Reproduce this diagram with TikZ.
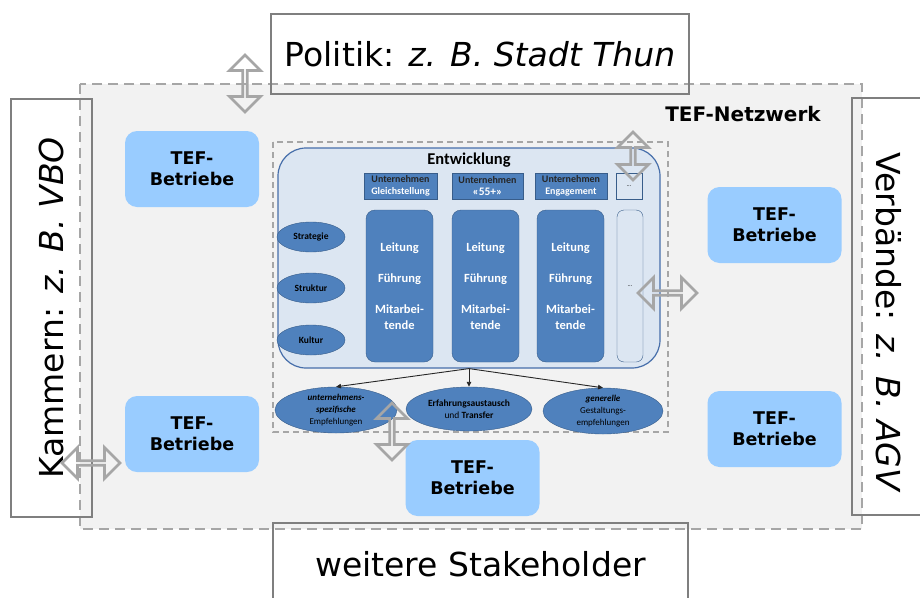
\documentclass[tikz,border=0pt]{standalone}
\usepackage{fontspec}
\setmainfont{DejaVu Sans}
\newfontfamily\calfont{Carlito}
\usepackage{tikz}
\usetikzlibrary{shapes.geometric,shapes.arrows,arrows.meta}

\definecolor{tefblau}{RGB}{153,204,255}
\definecolor{netzgrau}{RGB}{242,242,242}
\definecolor{randgrau}{RGB}{127,127,127}
\definecolor{pfeilgrau}{RGB}{166,166,166}
\definecolor{hellblau}{RGB}{220,230,242}
\definecolor{rahmenblau}{RGB}{70,110,170}
\definecolor{mittelblau}{RGB}{79,129,189}
\definecolor{dunkelblau}{RGB}{56,93,138}

\begin{document}
\begin{tikzpicture}[x=1pt,y=-1pt,
    aussen/.style={shape=rectangle, draw=randgrau, line width=2.8, inner sep=0},
    gross/.style={font=\fontsize{33}{40}\selectfont},
    betrieb/.style={shape=rectangle, rounded corners=12, fill=tefblau, minimum width=134, minimum height=76,
                    align=center, font=\fontsize{17.5}{21}\selectfont\bfseries},
    kopf/.style={shape=rectangle, fill=mittelblau, draw=dunkelblau, minimum height=26, inner sep=0,
                 align=center, text=white, font=\calfont\fontsize{10}{12.5}\selectfont\bfseries},
    spalte/.style={shape=rectangle, rounded corners=9, fill=mittelblau, draw=dunkelblau, minimum width=67,
                   minimum height=152, align=center, text=white, font=\calfont\fontsize{12.5}{16}\selectfont\bfseries},
    leer/.style={shape=rectangle, fill=hellblau, draw=dunkelblau, minimum width=26, inner sep=0,
                 font=\calfont\fontsize{6}{6}\selectfont},
    oval/.style={shape=ellipse, fill=mittelblau, draw=dunkelblau, inner sep=0, align=center},
    doppel/.style={double arrow, draw=pfeilgrau, line width=2.7, inner sep=0, minimum width=31,
                   double arrow head extend=8},
    pfeil/.style={-{Triangle[length=5,width=4.5]}, draw=black!85, line width=0.9}
  ]
  \clip (0,0) rectangle (920,597);

  % TEF-Netzwerk
  \path[fill=netzgrau, draw=pfeilgrau, line width=2.2, dash pattern=on 10 off 6] (80,84) rectangle (862,529);
  \node [font=\fontsize{20}{24}\selectfont\bfseries] (netz) at (743,114) {TEF-Netzwerk};

  % Stakeholder
  \node [aussen, gross, minimum width=418, minimum height=80] (politik) at (480,54)
        {Politik: \textit{z. B. Stadt Thun}};
  \node [aussen, minimum width=415, minimum height=82] (weiterebox) at (480.5,564) {};
  \node [gross] (weitere) at (480.5,564) {weitere Stakeholder};
  \node [aussen, gross, rotate=90, minimum width=418, minimum height=81] (kammern) at (51.5,308)
        {Kammern: \textit{z. B. VBO}};
  \node [aussen, minimum width=80, minimum height=417] (verbandbox) at (892,306.5) {};
  \node [gross, rotate=-90] (verband) at (889,322.5) {Verbände: \textit{z. B. AGV}};

  % TEF-Betriebe
  \path (192,169)   node [betrieb] (betrieb1) {TEF-\\Betriebe}
        (774.5,225) node [betrieb] (betrieb2) {TEF-\\Betriebe}
        (192,434)   node [betrieb] (betrieb3) {TEF-\\Betriebe}
        (774.5,429) node [betrieb] (betrieb4) {TEF-\\Betriebe}
        (472.5,478) node [betrieb] (betrieb5) {TEF-\\Betriebe};

  % Modell
  \draw[pfeilgrau, line width=1.2, dash pattern=on 6 off 4] (273,142) rectangle (668,432);
  \node [shape=rectangle, rounded corners=28, fill=hellblau, draw=rahmenblau, line width=1.2,
         minimum width=382, minimum height=220] (entw) at (469,258) {};
  \node [font=\calfont\fontsize{16.5}{18}\selectfont\bfseries] (entwtitel) at (469,160) {Entwicklung};

  \path (400.5,186) node [kopf, minimum width=73] (kopf1) {\textcolor{black!85}{Unternehmen}\\Gleichstellung}
        (487.5,186) node [kopf, minimum width=71] (kopf2) {\textcolor{black!85}{Unternehmen}\\{\fontsize{11.5}{12.5}\selectfont«55+»}}
        (571,186)   node [kopf, minimum width=72] (kopf3) {\textcolor{black!85}{Unternehmen}\\Engagement}
        (629,186)   node [leer, minimum height=26] (kopf4) {\dots};

  \path (399.5,286) node [spalte] (spalte1) {Leitung\\[15pt]Führung\\[15pt]Mitarbei-\\tende}
        (485.5,286) node [spalte] (spalte2) {Leitung\\[15pt]Führung\\[15pt]Mitarbei-\\tende}
        (570.5,286) node [spalte] (spalte3) {Leitung\\[15pt]Führung\\[15pt]Mitarbei-\\tende}
        (630,286)   node [leer, rounded corners=7, minimum height=152] (spalte4) {\dots};

  \path (311,237) node [oval, minimum width=68, minimum height=30,
                        font=\calfont\fontsize{9.5}{11}\selectfont\bfseries] (strategie) {Strategie}
        (311,288) node [oval, minimum width=68, minimum height=30,
                        font=\calfont\fontsize{9.5}{11}\selectfont\bfseries] (struktur) {Struktur}
        (311,340) node [oval, minimum width=68, minimum height=30,
                        font=\calfont\fontsize{9.5}{11}\selectfont\bfseries] (kultur) {Kultur};

  \path (336,410) node [oval, minimum width=122, minimum height=46, font=\calfont\fontsize{9}{12}\selectfont] (empf1)
              {\textbf{\textit{unternehmens-}}\\\textbf{\textit{spezifische}}\\Empfehlungen}
        (469,409) node [oval, minimum width=126, minimum height=44, font=\calfont\fontsize{9.5}{12}\selectfont] (empf2)
              {\textbf{Erfahrungsaustausch}\\und \textbf{Transfer}}
        (603,411) node [oval, minimum width=120, minimum height=46, font=\calfont\fontsize{9}{12}\selectfont] (empf3)
              {\textbf{\textit{generelle}}\\Gestaltungs-\\empfehlungen};

  \draw[pfeil] (entw.south) -- (empf1.north);
  \draw[pfeil] (entw.south) -- (empf2.north);
  \draw[pfeil] (entw.south) -- (empf3.north);

  % Austausch
  \path (245,83.5)  node [doppel, rotate=90, minimum height=57] (austausch1) {}
        (633,156)   node [doppel, rotate=90, minimum height=48] (austausch2) {}
        (667.5,293) node [doppel, minimum height=59] (austausch3) {}
        (91,463)    node [doppel, minimum height=58] (austausch4) {}
        (392,431.5) node [doppel, rotate=90, minimum height=57] (austausch5) {};
\end{tikzpicture}
\end{document}
